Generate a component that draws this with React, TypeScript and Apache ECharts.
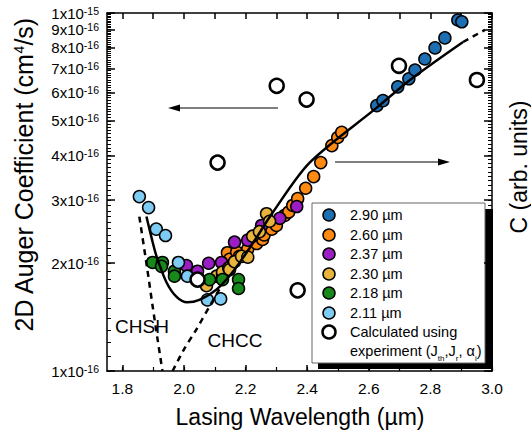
import React, { useEffect, useRef } from "react";
import * as echarts from "echarts";

const FONT = '"Liberation Sans", Arial, Helvetica, sans-serif';

// ---- data (wavelength µm, Auger coefficient cm^4/s) ----
const s290: [number, number][] = [
  [2.626, 5.51e-16], [2.646, 5.69e-16], [2.694, 6.22e-16], [2.73, 6.55e-16], [2.75, 6.93e-16],
  [2.782, 7.44e-16], [2.815, 7.99e-16], [2.847, 8.52e-16], [2.889, 9.56e-16], [2.902, 9.45e-16],
];
const s260: [number, number][] = [
  [2.141, 2.14e-16], [2.148, 2.05e-16], [2.171, 2.15e-16], [2.18, 2.09e-16], [2.207, 2.19e-16],
  [2.236, 2.27e-16], [2.255, 2.33e-16], [2.26, 2.4e-16], [2.285, 2.49e-16], [2.3, 2.55e-16],
  [2.327, 2.72e-16], [2.34, 2.78e-16], [2.353, 2.9e-16], [2.369, 3.03e-16], [2.395, 3.24e-16],
  [2.421, 3.49e-16], [2.444, 3.82e-16], [2.48, 4.26e-16], [2.499, 4.49e-16], [2.512, 4.64e-16],
];
const s237: [number, number][] = [
  [2.008, 1.97e-16], [2.044, 1.9e-16], [2.08, 2.0e-16], [2.122, 2.01e-16], [2.164, 2.29e-16],
  [2.207, 2.32e-16], [2.252, 2.55e-16], [2.311, 2.67e-16], [2.366, 2.88e-16],
];
const s230: [number, number][] = [
  [2.073, 1.73e-16], [2.106, 1.84e-16], [2.125, 1.86e-16], [2.125, 1.89e-16], [2.145, 1.94e-16],
  [2.148, 1.92e-16], [2.164, 2.02e-16], [2.187, 2.09e-16], [2.207, 2.08e-16], [2.223, 2.38e-16],
  [2.245, 2.45e-16], [2.268, 2.75e-16], [2.278, 2.62e-16],
];
const s218: [number, number][] = [
  [1.898, 2.01e-16], [1.93, 2.01e-16], [1.927, 1.96e-16], [1.969, 1.9e-16], [1.969, 1.84e-16],
  [2.083, 1.8e-16], [2.125, 1.8e-16], [2.177, 1.8e-16], [2.177, 1.7e-16],
];
const s211: [number, number][] = [
  [1.855, 3.07e-16], [1.885, 2.86e-16], [1.91, 2.49e-16], [1.94, 2.39e-16], [1.982, 2.01e-16],
  [2.011, 1.84e-16], [2.076, 1.58e-16], [2.119, 1.59e-16],
];
const calc: [number, number][] = [
  [2.044, 1.8e-16], [2.109, 3.82e-16], [2.301, 6.26e-16], [2.369, 1.68e-16], [2.398, 5.73e-16],
  [2.698, 7.12e-16], [2.951, 6.5e-16],
];
const fitSolid: [number, number][] = [
  [1.878, 2.7e-16], [1.895, 2.35e-16], [1.911, 2.09e-16], [1.943, 1.77e-16], [1.976, 1.61e-16],
  [2.01, 1.555e-16], [2.05, 1.58e-16], [2.106, 1.69e-16], [2.16, 1.9e-16], [2.22, 2.25e-16],
  [2.288, 2.77e-16], [2.408, 3.82e-16], [2.626, 5.44e-16], [2.743, 6.59e-16], [2.906, 8.3e-16],
];
const fitTail: [number, number][] = [[2.906, 8.3e-16], [2.977, 8.97e-16]];
const chsh: [number, number][] = [
  [1.855, 2.7e-16], [1.881, 1.92e-16], [1.898, 1.52e-16], [1.914, 1.23e-16], [1.93, 1.0e-16],
];
const chcc: [number, number][] = [
  [1.963, 1.0e-16], [2.0, 1.15e-16], [2.041, 1.31e-16], [2.08, 1.5e-16], [2.118, 1.71e-16],
];

const seriesNames = ["2.90 µm", "2.60 µm", "2.37 µm", "2.30 µm", "2.18 µm", "2.11 µm"];
const seriesColors = ["#1d6fb3", "#ff8a12", "#9b1dc4", "#e8b43c", "#17891a", "#7ecbf3"];
const seriesData = [s290, s260, s237, s230, s218, s211];

const xLabelValues = [1.8, 2.0, 2.2, 2.4, 2.6, 2.8, 3.0];
const xMinorValues = [1.8, 1.9, 2.0, 2.1, 2.2, 2.3, 2.4, 2.5, 2.6, 2.7, 2.8, 2.9, 3.0];
const yMantissas = [1, 2, 3, 4, 5, 6, 7, 8, 9, 10];
const yMinorMantissas = Array.from({ length: 91 }, (_, i) => 1 + i * 0.1);

const lg = (d: [number, number][]) => d.map(([x, v]) => [x, Math.log10(v)]);
const TICK = "#000";

export default function App() {
  const ref = useRef<HTMLDivElement>(null);
  useEffect(() => {
    if (!ref.current) return;
    const chart = echarts.init(ref.current, null, { renderer: "svg" });
    const yMajor = yMantissas.map((k) => -16 + Math.log10(k));
    const yMinor = yMinorMantissas.map((k) => -16 + Math.log10(k));
    const mkLine = () => ({ show: true, lineStyle: { color: "#000", width: 1.5 } });
    const yBase = { type: "value", min: -16, max: -15, splitLine: { show: false } };
    const xBase = { type: "value", min: 1.75, max: 3.0, splitLine: { show: false } };

    const scatter = seriesData.map((d, i) => ({
      type: "scatter",
      name: seriesNames[i],
      data: lg(d),
      symbol: "circle",
      symbolSize: 12,
      itemStyle: { color: seriesColors[i], borderColor: "#000", borderWidth: 1.5, opacity: 1 },
      z: 3,
    }));
    const order = [1, 0, 2, 3, 4, 5];
    const lineS = (d: [number, number][], dashed: boolean, smooth: number) => ({
      type: "line",
      data: lg(d),
      symbol: "none",
      showSymbol: false,
      smooth,
      lineStyle: { color: "#000", width: 2.5, type: dashed ? [6, 5] : "solid" },
      z: 5,
    });

    const legendRows = [215, 235, 254, 274, 293, 313];
    const legendEls: any[] = [
      { type: "rect", shape: { x: 318, y: 209, width: 175, height: 160 }, style: { fill: "#000" } },
      { type: "rect", shape: { x: 312, y: 203, width: 173, height: 160 }, style: { fill: "#fff", stroke: "#666", lineWidth: 1 } },
    ];
    seriesNames.forEach((n, i) => {
      legendEls.push({ type: "circle", shape: { cx: 329, cy: legendRows[i], r: 6 }, style: { fill: seriesColors[i], stroke: "#000", lineWidth: 1.5 } });
      legendEls.push({ type: "text", x: 350, y: legendRows[i], style: { text: n, fontSize: 14.5, fontFamily: FONT, fill: "#000", align: "left", verticalAlign: "middle" } });
    });
    legendEls.push({ type: "circle", shape: { cx: 329, cy: 332, r: 6.5 }, style: { fill: "#fff", stroke: "#000", lineWidth: 2.5 } });
    legendEls.push({ type: "text", x: 350, y: 332, style: { text: "Calculated using", fontSize: 14.5, fontFamily: FONT, fill: "#000", align: "left", verticalAlign: "middle" } });
    legendEls.push({
      type: "text", x: 350, y: 351,
      style: {
        text: "experiment (J{sub|th},J{sub|r}, α{sub|i})", fontSize: 14.5, fontFamily: FONT, fill: "#000", align: "left", verticalAlign: "middle",
        rich: { sub: { fontSize: 8, fontFamily: FONT, verticalAlign: "bottom", lineHeight: 22, fill: "#000" } },
      },
    });

    chart.setOption({
      animation: false,
      grid: { left: 107, right: 39, top: 13, bottom: 59 },
      xAxis: [
        {
          ...xBase, position: "bottom", axisLine: mkLine(),
          axisTick: { show: true, inside: true, length: 6, customValues: xLabelValues, lineStyle: { color: TICK, width: 1.5 } },
          axisLabel: { show: true, customValues: xLabelValues, margin: 9, fontSize: 15.5, fontFamily: FONT, color: "#000", formatter: (v: number) => v.toFixed(1) },
        },
        {
          ...xBase, position: "bottom", axisLine: { show: false },
          axisTick: { show: true, inside: true, length: 4, customValues: xMinorValues, lineStyle: { color: TICK, width: 1.2 } },
          axisLabel: { show: false },
        },
        {
          ...xBase, position: "top", axisLine: mkLine(),
          axisTick: { show: true, inside: true, length: 6, customValues: xMinorValues, lineStyle: { color: TICK, width: 1.5 } },
          axisLabel: { show: false },
        },
      ],
      yAxis: [
        {
          ...yBase, position: "left", axisLine: mkLine(),
          axisTick: { show: true, inside: true, length: 8, customValues: yMajor, lineStyle: { color: TICK, width: 1.5 } },
          axisLabel: {
            show: true, customValues: yMajor, margin: 8, color: "#000", hideOverlap: false, showMaxLabel: true, showMinLabel: true,
            formatter: (v: number) => {
              const k = Math.round(Math.pow(10, v + 16));
              return k >= 10 ? "{a|1x10}{s|-15}" : `{a|${k}x10}{s|-16}`;
            },
            rich: {
              a: { fontSize: 15, fontFamily: FONT, color: "#000", lineHeight: 16 },
              s: { fontSize: 10.5, fontFamily: FONT, color: "#000", verticalAlign: "top", lineHeight: 10 },
            },
          },
        },
        {
          ...yBase, position: "left", axisLine: { show: false },
          axisTick: { show: true, inside: true, length: 4, customValues: yMinor, lineStyle: { color: TICK, width: 1 } },
          axisLabel: { show: false },
        },
        {
          ...yBase, position: "right", axisLine: mkLine(),
          axisTick: { show: true, inside: true, length: 8, customValues: yMajor, lineStyle: { color: TICK, width: 1.5 } },
          axisLabel: { show: false },
        },
        {
          ...yBase, position: "right", axisLine: { show: false },
          axisTick: { show: true, inside: true, length: 4, customValues: yMinor, lineStyle: { color: TICK, width: 1 } },
          axisLabel: { show: false },
        },
      ],
      series: [
        ...order.map((i) => scatter[i]),
        {
          type: "scatter", name: "Calculated", data: lg(calc), symbol: "circle", symbolSize: 14,
          itemStyle: { color: "#fff", borderColor: "#000", borderWidth: 2.5, opacity: 1 }, z: 4,
        },
        lineS(fitSolid, false, 0.3),
        lineS(fitTail, true, 0),
        lineS(chsh, true, 0.3),
        lineS(chcc, true, 0.2),
      ],
      graphic: [
        {
          type: "text", x: 24, y: 175, rotation: Math.PI / 2,
          style: {
            text: "2D Auger Coefficient (cm{sup|4}/s)", fontSize: 25, fontFamily: FONT, fill: "#000", align: "center", verticalAlign: "middle",
            rich: { sup: { fontSize: 14, fontFamily: FONT, verticalAlign: "top", lineHeight: 14, fill: "#000" } },
          },
        },
        {
          type: "text", x: 519, y: 167, rotation: Math.PI / 2,
          style: { text: "C (arb. units)", fontSize: 23, fontFamily: FONT, fill: "#000", align: "center", verticalAlign: "middle" },
        },
        {
          type: "text", x: 300, y: 417,
          style: { text: "Lasing Wavelength (µm)", fontSize: 23, fontFamily: FONT, fill: "#000", align: "center", verticalAlign: "middle" },
        },
        { type: "text", x: 142, y: 326, style: { text: "CHSH", fontSize: 19, fontFamily: FONT, fill: "#000", align: "center", verticalAlign: "middle" } },
        { type: "text", x: 235, y: 340, style: { text: "CHCC", fontSize: 19, fontFamily: FONT, fill: "#000", align: "center", verticalAlign: "middle" } },
        { type: "line", shape: { x1: 176, y1: 108, x2: 278, y2: 108 }, style: { stroke: "#000", lineWidth: 1.2 } },
        { type: "polygon", shape: { points: [[168, 108], [180, 104.5], [180, 111.5]] }, style: { fill: "#000" } },
        { type: "line", shape: { x1: 335, y1: 162, x2: 442, y2: 162 }, style: { stroke: "#000", lineWidth: 1.2 } },
        { type: "polygon", shape: { points: [[450, 162], [438, 158.5], [438, 165.5]] }, style: { fill: "#000" } },
        { type: "group", z: 100, children: legendEls },
      ],
    });
    return () => chart.dispose();
  }, []);
  return <div ref={ref} style={{ width: 531, height: 430, position: "absolute", left: 0, top: 0 }} />;
}
